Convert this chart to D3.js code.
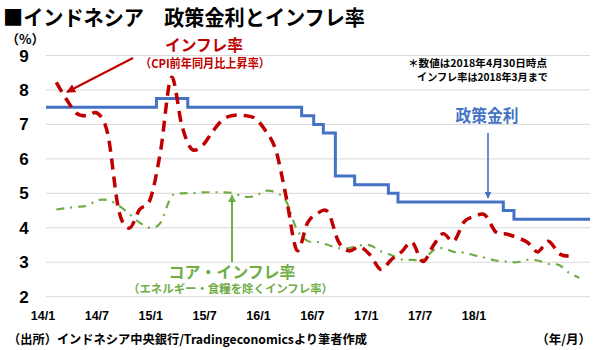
<!DOCTYPE html>
<html><head><meta charset="utf-8">
<script src="https://cdn.jsdelivr.net/npm/d3@7"></script>
<style>
body{margin:0;background:#fff}
svg{display:block}
text{font-family:"Noto Sans CJK JP","Liberation Sans",sans-serif;font-weight:bold}
.num{font-family:"Liberation Sans",Arial,sans-serif}
</style>
</head><body><svg id="c" width="600" height="350"></svg>
<script>
// ---- data ----
const firstYear = 2014;                    // monthly series start Jan 2014
const cpi = [                               // CPI y/y (%)
  8.22, 7.75, 7.32, 7.25, 7.32, 6.70, 4.53, 3.99, 4.53, 4.83, 6.23, 8.36,
  6.96, 6.29, 6.38, 6.79, 7.15, 7.26, 7.26, 7.18, 6.83, 6.25, 4.89, 3.35,
  4.14, 4.42, 4.45, 3.60, 3.33, 3.45, 3.21, 2.79, 3.07, 3.31, 3.58, 3.02,
  3.49, 3.83, 3.61, 4.17, 4.33, 4.37, 3.88, 3.82, 3.72, 3.58, 3.30, 3.61,
  3.25, 3.18
];
const core = [                              // core inflation (%)
  4.53, 4.57, 4.61, 4.64, 4.80, 4.80, 4.65, 4.40, 4.15, 4.00, 4.15, 4.90,
  5.00, 5.00, 5.03, 5.03, 5.03, 5.00, 4.90, 4.92, 5.07, 5.02, 4.77, 3.95,
  3.62, 3.59, 3.50, 3.41, 3.41, 3.49, 3.49, 3.32, 3.21, 3.08, 3.07, 3.07,
  3.35, 3.41, 3.30, 3.28, 3.20, 3.13, 3.05, 3.02, 3.00, 3.07, 3.05, 2.95,
  2.92, 2.70, 2.55
];
const rateDates = ["2014-01-01","2014-11-18","2015-02-17","2016-01-14","2016-02-18","2016-03-17",
  "2016-04-21","2016-06-16","2016-09-22","2016-10-20","2017-08-22","2017-09-22","2018-05-01"];
const rateValues = [7.5, 7.75, 7.5, 7.25, 7.0, 6.75, 5.5, 5.25, 5.0, 4.75, 4.5, 4.25, 4.25];
const xTickLabels = ["14/1","14/7","15/1","15/7","16/1","16/7","17/1","17/7","18/1"];
const yTicks = [2,3,4,5,6,7,8,9];

// ---- scales ----
const svg = d3.select("#c");
const x = d3.scaleTime().domain([new Date(2014,0,1), new Date(2018,4,1)]).range([46, 590]);
const y = d3.scaleLinear().domain([2, 9]).range([296.7, 55.5]);
const xLab = d3.scalePoint().domain(xTickLabels).range([43, 474]);
const monthEnd = i => new Date(firstYear, i + 1, 0);

// gridlines
svg.append("g").selectAll("line").data(yTicks).join("line")
  .attr("x1", 46).attr("x2", 590).attr("y1", d => y(d)).attr("y2", d => y(d))
  .attr("stroke", "#d9d9d9").attr("stroke-width", 1);

// y axis labels
svg.append("g").selectAll("text").data(yTicks).join("text").attr("class","num")
  .attr("x", 24).attr("y", d => y(d) + 6).attr("text-anchor","middle")
  .attr("font-size", 17).attr("fill","#000").text(d => d);

// x axis labels
svg.append("g").selectAll("text").data(xTickLabels).join("text").attr("class","num")
  .attr("x", d => xLab(d)).attr("y", 320).attr("text-anchor","middle")
  .attr("font-size", 12.5).attr("fill","#000").text(d => d);

// lines
const smooth = d3.line().curve(d3.curveCardinal.tension(0));
const corePts = core.map((v,i) => [x(monthEnd(i)), y(v)]);
svg.append("path").attr("d", smooth(corePts)).attr("fill","none")
  .attr("stroke","#70AD47").attr("stroke-width",2.2).attr("stroke-dasharray","8,6,2,6");

const ratePts = rateDates.map((d,i) => [x(new Date(d + "T00:00:00")), y(rateValues[i])]);
svg.append("path").attr("d", d3.line().curve(d3.curveStepAfter)(ratePts)).attr("fill","none")
  .attr("stroke","#4472C4").attr("stroke-width",3);

const cpiPts = cpi.map((v,i) => [x(monthEnd(i)), y(v)]);
svg.append("path").attr("d", smooth(cpiPts)).attr("fill","none")
  .attr("stroke","#C00000").attr("stroke-width",3.5).attr("stroke-dasharray","11,7");

// arrow markers
const defs = svg.append("defs");
function marker(id, color, s){
  defs.append("marker").attr("id", id).attr("viewBox","0 0 10 10").attr("refX",9).attr("refY",5)
    .attr("markerWidth", s).attr("markerHeight", s).attr("orient","auto").attr("markerUnits","userSpaceOnUse")
    .append("path").attr("d","M0,0L10,5L0,10z").attr("fill", color);
}
marker("ar","#C00000",9); marker("ab","#4472C4",7); marker("ag","#70AD47",8);
svg.append("line").attr("x1",133).attr("y1",58).attr("x2",67).attr("y2",92)
  .attr("stroke","#C00000").attr("stroke-width",2).attr("marker-end","url(#ar)");
svg.append("line").attr("x1",488).attr("y1",133).attr("x2",488).attr("y2",198)
  .attr("stroke","#4472C4").attr("stroke-width",1.6).attr("marker-end","url(#ab)");
svg.append("line").attr("x1",232).attr("y1",262).attr("x2",232).attr("y2",195)
  .attr("stroke","#70AD47").attr("stroke-width",2).attr("marker-end","url(#ag)");

// texts
function txt(s, xx, yy, size, color, anchor, len){
  const t = svg.append("text").attr("x", xx).attr("y", yy).attr("font-size", size)
    .attr("fill", color).attr("text-anchor", anchor || "start").text(s);
  if (len) t.attr("textLength", len).attr("lengthAdjust","spacingAndGlyphs");
  return t;
}
txt("■インドネシア　政策金利とインフレ率", 3, 25, 21, "#000", "start", 362);
txt("（%）", 6, 43.5, 13, "#000", "start");
txt("インフレ率", 204, 51, 16, "#C00000", "middle", 78);
txt("（CPI前年同月比上昇率）", 205, 67.5, 12, "#C00000", "middle", 130);
txt("＊数値は2018年4月30日時点", 408, 67, 10.5, "#000", "start", 139);
txt("インフレ率は2018年3月まで", 417, 80.5, 10.5, "#000", "start", 131);
txt("政策金利", 487, 122, 16.5, "#4472C4", "middle", 63);
txt("コア・インフレ率", 232, 278, 16, "#70AD47", "middle", 127);
txt("（エネルギー・食糧を除くインフレ率）", 230.5, 293, 11.5, "#70AD47", "middle", 205);
txt("（出所）インドネシア中央銀行/Tradingeconomicsより筆者作成", 8, 344, 12.5, "#000", "start", 359);
txt("（年/月）", 591, 344, 12.5, "#000", "end");
</script>
</body></html>
